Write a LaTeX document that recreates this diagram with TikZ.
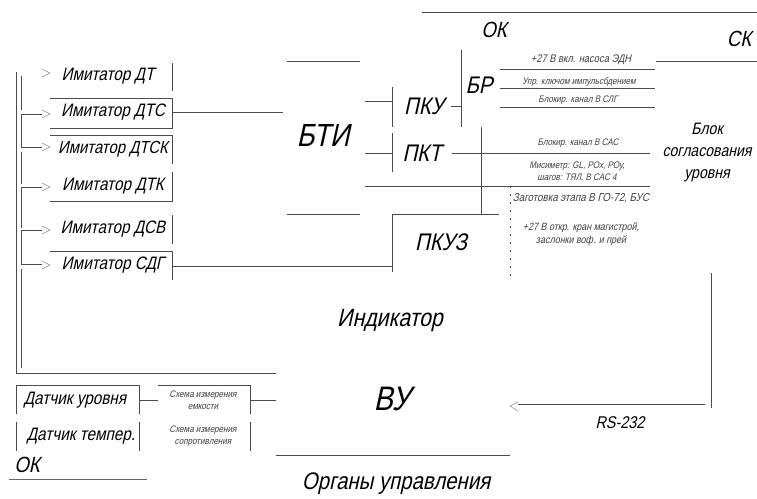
\documentclass[tikz,border=0pt]{standalone}
\usepackage{fontspec}
\setmainfont{Liberation Sans}
\newfontfamily\gostfont[FakeStretch=0.85,FakeSlant=0.22]{Liberation Sans}
\usepackage{tikz}
\usetikzlibrary{calc}
\tikzset{
  wire/.style={draw=black!70,line width=0.9pt},
  txt/.style={font=\gostfont\fontsize{18}{20}\selectfont,text=black,inner sep=0pt},
  tiny/.style={font=\gostfont\fontsize{9.5}{12}\selectfont,text=black!75,inner sep=0pt,align=center},
  big/.style={font=\gostfont\fontsize{32}{34}\selectfont,text=black,inner sep=0pt},
  arr/.style={draw=black!45,line width=0.5pt,line cap=round}
}
\begin{document}
\begin{tikzpicture}[x=1pt,y=-1pt]
\useasboundingbox (0,0) rectangle (757,498);
\fill[white] (0,0) rectangle (757,498);
% simulators
\node[txt] (dt) at (108,76) {Имитатор ДТ};
\node[txt] (dtc) at (113,112) {Имитатор ДТС};
\node[txt,font=\gostfont\fontsize{17.5}{20}\selectfont] (dtck) at (113,149) {Имитатор ДТСК};
\node[txt] (dtk) at (113,186) {Имитатор ДТК};
\node[txt] (dcv) at (113,229) {Имитатор ДСВ};
\node[txt] (cdg) at (113,265) {Имитатор СДГ};
\draw[wire] (172,63) -- (172,91);
\draw[wire] (50,98) -- (172,98) -- (172,128) -- (50,128);
\draw[wire] (50,135) -- (172,135) -- (172,164);
\draw[wire] (172,172) -- (172,201) -- (50,201);
\draw[wire] (172,215) -- (172,244);
\draw[wire] (50,251) -- (172,251) -- (172,280);
\draw[wire] (172,112) -- (283,112);
\draw[wire] (172,266) -- (392,266);
% left bus
\draw[wire] (16,72) -- (16,373) -- (276,373);
\draw[wire] (21,76) -- (21,110);
\draw[wire] (21,152) -- (21,184);
\draw[wire] (21,269) -- (21,368);
\coordinate (a1) at (50,73);
\coordinate (a2) at (50,114);
\coordinate (a3) at (50,147);
\coordinate (a4) at (50,187);
\coordinate (a5) at (50,230);
\coordinate (a6) at (50,265);
\draw[wire] (42,114) -- (21,114) -- (21,147) -- (42,147);
\draw[wire] (42,187) -- (21,187) -- (21,228);
\draw[wire] (42,230) -- (21,230) -- (21,264) -- (42,264);
\foreach \p in {a1,a2,a3,a4,a5,a6}
  \draw[arr] ($(\p)+(-8,-4)$) -- (\p) -- ($(\p)+(-8,4)$);
% BTI
\node[big] (bti) at (323,135) {БТИ};
\draw[wire] (287,61) -- (360,61);
\draw[wire] (287,214) -- (360,214);
\draw[wire] (365,101) -- (392,101);
\draw[wire] (365,153) -- (392,153);
\draw[wire] (392,87) -- (392,127);
\draw[wire] (392,133) -- (392,172);
\node[txt,font=\gostfont\fontsize{24}{26}\selectfont] (pku) at (424,106) {ПКУ};
\node[txt,font=\gostfont\fontsize{24}{26}\selectfont] (pkt) at (422,153) {ПКТ};
\draw[wire] (451,106) -- (461,106);
\draw[wire] (461,50) -- (461,127);
\node[txt,font=\gostfont\fontsize{24}{26}\selectfont] (br) at (479,85) {БР};
\node[txt,font=\gostfont\fontsize{22}{24}\selectfont] (ok1) at (494,30) {ОК};
\node[txt,font=\gostfont\fontsize{22}{24}\selectfont] (ck) at (739,39) {СК};
\draw[wire] (422,12) -- (757,12);
% output lines
\draw[wire] (500,69) -- (655,69);
\draw[wire] (500,88) -- (655,88);
\draw[wire] (500,107) -- (655,107);
\draw[wire] (656,61) -- (757,61);
\node[tiny,font=\gostfont\fontsize{11}{12}\selectfont] (t1) at (581,60) {+27 В вкл. насоса ЭДН};
\node[tiny] (t2) at (579,82) {Упр. ключом импульсбдением};
\node[tiny] (t3) at (578,100) {Блокир. канал В СЛГ};
\draw[wire] (481,127) -- (481,214);
\draw[wire] (452,153) -- (650,153);
\draw[wire] (365,186) -- (650,186);
\draw[wire] (393,214) -- (499,214);
\node[tiny] (t4) at (578,143) {Блокир. канал В САС};
\node[tiny] (t5) at (577,172) {Мисиметр: GL, РОх, РОу,\\ шагов: ТЯЛ, В САС 4};
\node[tiny,font=\gostfont\fontsize{11.5}{12}\selectfont] (t6) at (581,198) {Заготовка этапа В ГО-72, БУС};
\node[tiny,font=\gostfont\fontsize{10.5}{13}\selectfont] (t7) at (581,234) {+27 В откр. кран магистрой,\\ заслонки воф. и прей};
\draw[draw=black!70,line width=0.9pt,dash pattern=on 2pt off 6pt] (510,186) -- (510,280);
\node[txt,font=\gostfont\fontsize{16.5}{22}\selectfont,align=center] (blk) at (707,153) {Блок\\согласования\\уровня};
% PKUZ and below
\node[txt,font=\gostfont\fontsize{24}{26}\selectfont] (pkuz) at (441,242) {ПКУЗ};
\draw[wire] (392,214) -- (392,272);
\node[txt,font=\gostfont\fontsize{25}{27}\selectfont] (ind) at (390,320) {Индикатор};
\node[big,font=\gostfont\fontsize{34}{36}\selectfont] (vu) at (392,399) {ВУ};
\node[txt,font=\gostfont\fontsize{24}{26}\selectfont] (org) at (396,484) {Органы управления};
\draw[wire] (276,455) -- (510,455);
\coordinate (rsa) at (510,406);
\draw[wire] (711,273) -- (711,408);
\draw[wire] (705,404) -- (518,404);
\draw[arr] (518,402) -- (rsa) -- (518,411);
\node[txt,font=\gostfont\fontsize{17}{19}\selectfont] (rs) at (620,423) {RS-232};
% sensors
\draw[wire] (16,414) -- (16,385) -- (139,385) -- (139,414);
\draw[wire] (16,422) -- (16,451);
\draw[wire] (139,422) -- (139,451);
\draw[wire] (158,385) -- (250,385) -- (250,414);
\draw[wire] (250,422) -- (250,451);
\draw[wire] (139,400) -- (158,400);
\draw[wire] (250,400) -- (276,400);
\node[txt] (du) at (75,400) {Датчик уровня};
\node[txt] (dtm) at (81,436) {Датчик темпер.};
\node[tiny] (sch1) at (203,400) {Схема измерения\\ емкости};
\node[tiny] (sch2) at (203,436) {Схема измерения\\ сопротивления};
\node[txt,font=\gostfont\fontsize{22}{24}\selectfont] (ok2) at (27,465) {ОК};
\draw[draw=black!60,line width=0.9pt] (9,479) -- (147,479);
\end{tikzpicture}
\end{document}
